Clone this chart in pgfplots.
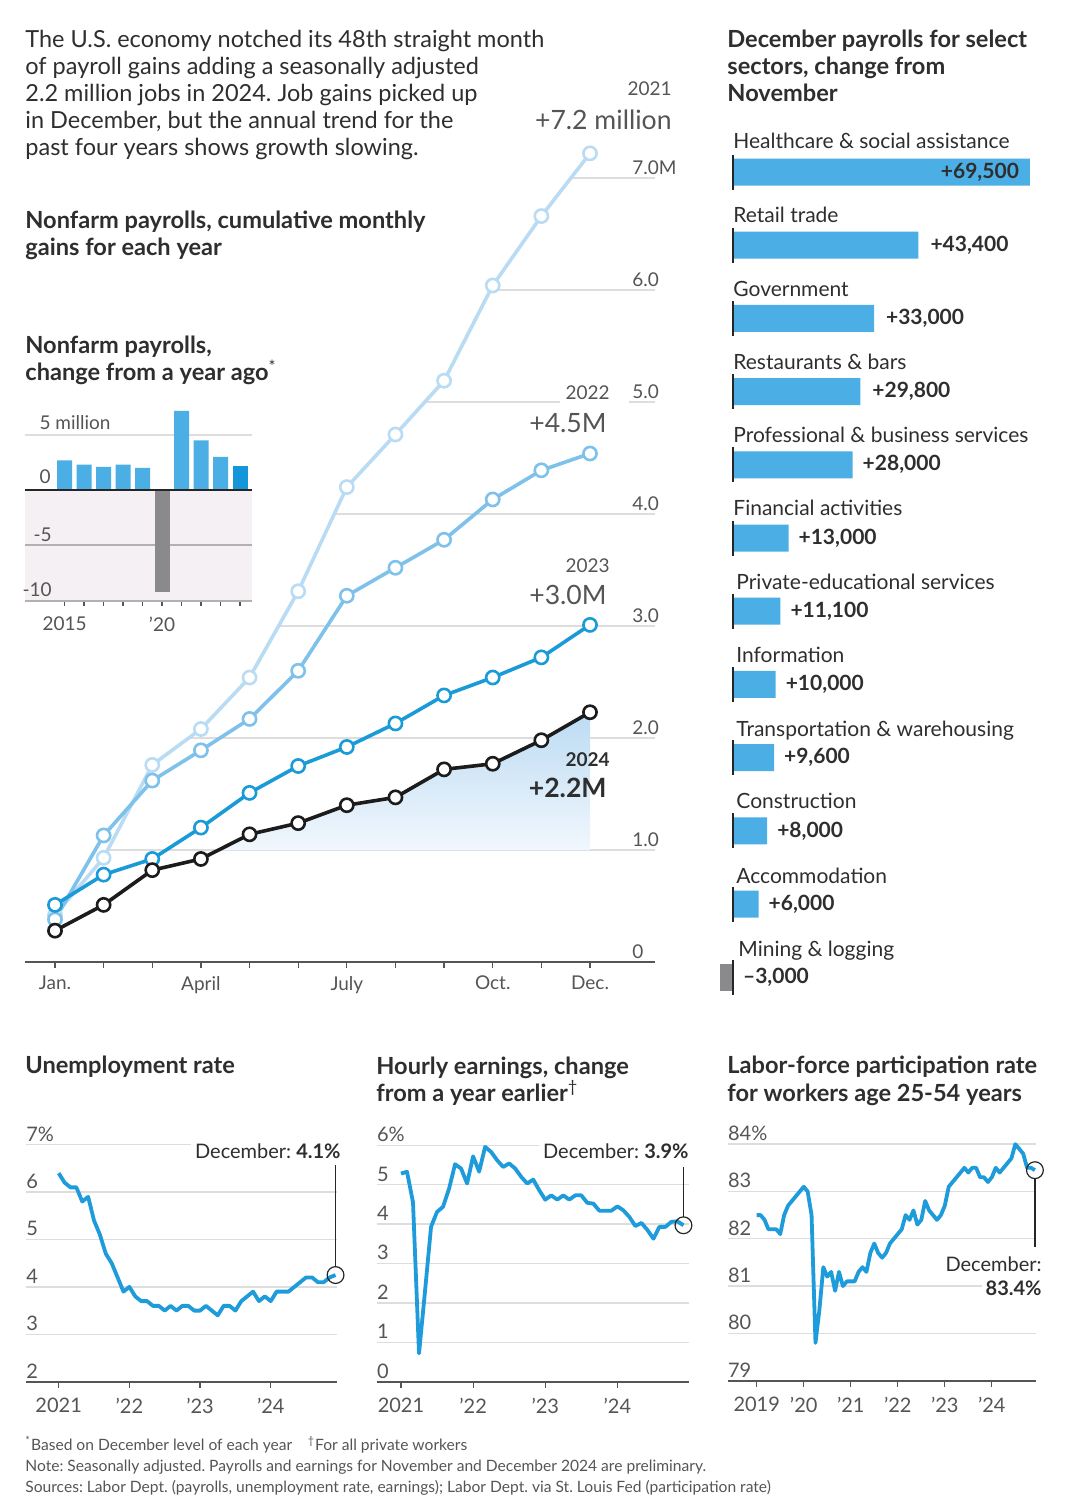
\documentclass[border=0pt]{standalone}
\usepackage{fontspec}
\setmainfont{Lato}
\usepackage{pgfplots}
\pgfplotsset{compat=1.18}
\frenchspacing

\definecolor{txtc}{HTML}{2E2E2E}
\definecolor{tickc}{HTML}{555555}
\definecolor{axisc}{HTML}{555555}
\definecolor{gridc}{HTML}{DDDDDD}
\definecolor{c21}{HTML}{B9DCF4}
\definecolor{c22}{HTML}{7EC1EA}
\definecolor{c23}{HTML}{1B9AD8}
\definecolor{c24}{HTML}{1C1C1C}
\definecolor{barc}{HTML}{4BAEE4}
\definecolor{bardk}{HTML}{1596D8}
\definecolor{gbar}{HTML}{8A8A8D}
\definecolor{linec}{HTML}{1E9BDA}
\definecolor{negc}{HTML}{F4F0F3}
\definecolor{fillt}{HTML}{BCDBF3}
\definecolor{fillb}{HTML}{F1F7FD}

\newcommand{\fbody}{\fontsize{11.75}{13}\selectfont}
\newcommand{\fhead}{\fontsize{11.8}{13}\selectfont\bfseries}
\newcommand{\ftick}{\fontsize{9.5}{11}\selectfont}
\newcommand{\fsmt}{\fontsize{10}{11}\selectfont}
\newcommand{\fbig}{\fontsize{13.3}{15}\selectfont}
\newcommand{\fsec}{\fontsize{10.5}{12}\selectfont}
\newcommand{\fval}{\fontsize{10.5}{12}\selectfont\bfseries}
\newcommand{\fnote}{\fontsize{7.8}{9}\selectfont}

\pgfplotsset{
  small/.style={
    anchor=north west, scale only axis,
    axis x line*=bottom, axis y line*=left,
    y axis line style={draw=none},
    x axis line style={draw=axisc, line width=0.8pt, -},
    xtick align=outside, ytick align=inside, major tick length=3pt,
    xtick style={draw=axisc, line width=0.6pt},
    ytick style={draw=none},
    ymajorgrids, grid style={draw=gridc, line width=0.7pt},
    xticklabel style={font=\fsmt, text=tickc, yshift=-1.5pt},
    yticklabel style={font=\fsmt, text=tickc, anchor=south west, inner sep=0pt, yshift=1.5pt},
    clip=false,
  },
  ser/.style={linec, line width=1.9pt, line join=round, no marks},
}

\begin{document}
\begin{tikzpicture}
\path[use as bounding box] (0,0) rectangle (540pt,-753.5pt);

% ---------------- main cumulative chart ----------------
\begin{axis}[
  at={(12.5pt,-61pt)}, anchor=north west, scale only axis,
  width=315pt, height=420pt,
  xmin=0.3832, xmax=13.3365, ymin=0, ymax=7.5,
  axis x line*=bottom, axis y line*=right,
  x axis line style={draw=axisc, line width=1pt, -},
  y axis line style={draw=none},
  xtick={1,...,12}, xticklabels={Jan.,,,April,,,July,,,Oct.,,Dec.},
  xtick align=outside, ytick align=inside, major tick length=3pt,
  xtick style={draw=axisc, line width=0.6pt},
  xticklabel style={font=\ftick, text=tickc, yshift=-0.5pt},
  ytick={0,...,7}, yticklabels={0,1.0,2.0,3.0,4.0,5.0,6.0,7.0M},
  ytick style={draw=none},
  yticklabel style={font=\ftick, text=tickc, anchor=south west, inner sep=0pt, xshift=-11.5pt, yshift=1.5pt},
  ymajorgrids, grid style={draw=gridc, line width=0.7pt},
]
% white mask above the 2021 line (hides grid on the left)
\addplot[fill=white, draw=none] coordinates {
  (0.3832,7.5) (0.3832,0.42) (1,0.42) (2,0.93) (3,1.76) (4,2.08) (5,2.54) (6,3.31)
  (7,4.24) (8,4.71) (9,5.19) (10,6.04) (11,6.66) (12,7.22) (12,7.5)} -- cycle;
% 2024 shaded area above 1.0
\addplot[draw=none, top color=fillt, bottom color=fillb] coordinates {
  (4.36,1.0) (5,1.14) (6,1.24) (7,1.40) (8,1.47) (9,1.72) (10,1.77) (11,1.98) (12,2.23) (12,1.0)} -- cycle;
\addplot[c21, line width=1.8pt, mark=*, mark size=3.3pt, mark options={fill=white, draw=c21, line width=1.3pt}] coordinates {
  (1,0.42) (2,0.93) (3,1.76) (4,2.08) (5,2.54) (6,3.31) (7,4.24) (8,4.71) (9,5.19) (10,6.04) (11,6.66) (12,7.22)};
\addplot[c22, line width=1.8pt, mark=*, mark size=3.3pt, mark options={fill=white, draw=c22, line width=1.3pt}] coordinates {
  (1,0.38) (2,1.13) (3,1.62) (4,1.89) (5,2.17) (6,2.60) (7,3.27) (8,3.52) (9,3.77) (10,4.13) (11,4.39) (12,4.54)};
\addplot[c23, line width=1.8pt, mark=*, mark size=3.3pt, mark options={fill=white, draw=c23, line width=1.3pt}] coordinates {
  (1,0.51) (2,0.78) (3,0.92) (4,1.20) (5,1.51) (6,1.75) (7,1.92) (8,2.13) (9,2.38) (10,2.54) (11,2.72) (12,3.01)};
\addplot[c24, line width=1.8pt, mark=*, mark size=3.3pt, mark options={fill=white, draw=c24, line width=1.3pt}] coordinates {
  (1,0.28) (2,0.51) (3,0.82) (4,0.92) (5,1.14) (6,1.24) (7,1.40) (8,1.47) (9,1.72) (10,1.77) (11,1.98) (12,2.23)};
\end{axis}

% ---------------- inset bar chart ----------------
\begin{axis}[
  at={(12.5pt,-201pt)}, anchor=north west, scale only axis,
  width=113.5pt, height=99.5pt,
  xmin=2012.97, xmax=2024.615, ymin=-10.1, ymax=8,
  axis x line*=bottom, axis y line*=left,
  x axis line style={draw=none}, y axis line style={draw=none},
  ytick=\empty,
  xtick={2015,...,2024}, xticklabels={2015,,,,,’20,,,,},
  xtick align=outside, major tick length=2.5pt,
  xtick style={draw=tickc, line width=0.6pt},
  xticklabel style={font=\ftick, text=tickc, yshift=-2pt},
]
\fill[negc] (axis cs:2012.97,0) rectangle (axis cs:2024.615,-10.1);
\draw[gridc, line width=0.7pt] (axis cs:2012.97,5) -- (axis cs:2024.615,5);
\draw[gridc!80!black, line width=0.6pt] (axis cs:2012.97,-5) -- (axis cs:2024.615,-5);
\draw[gridc!80!black, line width=0.6pt] (axis cs:2012.97,-10.1) -- (axis cs:2024.615,-10.1);
\addplot[ybar, bar width=7.5pt, bar shift=0pt, fill=barc, draw=none] coordinates {
  (2015,2.7) (2016,2.3) (2017,2.1) (2018,2.3) (2019,2.0) (2021,7.2) (2022,4.5) (2023,3.0)};
\addplot[ybar, bar width=7.5pt, bar shift=0pt, fill=gbar, draw=none] coordinates {(2020,-9.3)};
\addplot[ybar, bar width=7.5pt, bar shift=0pt, fill=bardk, draw=none] coordinates {(2024,2.2)};
\draw[black!85, line width=1pt] (axis cs:2012.97,0) -- (axis cs:2024.615,0);
\end{axis}

% ---------------- sector bars ----------------
\begin{axis}[
  at={(357.5pt,-67.7pt)}, anchor=north west, scale only axis,
  width=162.5pt, height=439.2pt,
  xmin=-4212, xmax=71845, ymin=-0.5, ymax=11.5, y dir=reverse,
  hide axis,
]
\addplot[xbar, bar width=13.5pt, bar shift=0pt, fill=barc, draw=none] coordinates {
  (69500,0) (43400,1) (33000,2) (29800,3) (28000,4) (13000,5) (11100,6) (10000,7) (9600,8) (8000,9) (6000,10)};
\addplot[xbar, bar width=13.5pt, bar shift=0pt, fill=gbar, draw=none] coordinates {(-3000,11)};
\pgfplotsinvokeforeach{0,...,11}{\draw[black!85, line width=1.1pt] ([yshift=8.75pt]axis cs:0,#1) -- ([yshift=-8.75pt]axis cs:0,#1);}
\node[anchor=east, font=\fval, text=txtc, xshift=-2pt] at (axis cs:69500,0) {+69,500};
\node[anchor=west, font=\fval, text=txtc, xshift=2.5pt] at (axis cs:43400,1) {+43,400};
\node[anchor=west, font=\fval, text=txtc, xshift=2.5pt] at (axis cs:33000,2) {+33,000};
\node[anchor=west, font=\fval, text=txtc, xshift=2.5pt] at (axis cs:29800,3) {+29,800};
\node[anchor=west, font=\fval, text=txtc, xshift=1.5pt] at (axis cs:28000,4) {+28,000};
\node[anchor=west, font=\fval, text=txtc, xshift=1.5pt] at (axis cs:13000,5) {+13,000};
\node[anchor=west, font=\fval, text=txtc, xshift=1.5pt] at (axis cs:11100,6) {+11,100};
\node[anchor=west, font=\fval, text=txtc, xshift=1.5pt] at (axis cs:10000,7) {+10,000};
\node[anchor=west, font=\fval, text=txtc, xshift=1.5pt] at (axis cs:9600,8) {+9,600};
\node[anchor=west, font=\fval, text=txtc, xshift=1.5pt] at (axis cs:8000,9) {+8,000};
\node[anchor=west, font=\fval, text=txtc, xshift=1.5pt] at (axis cs:6000,10) {+6,000};
\node[anchor=west, font=\fval, text=txtc, xshift=1.5pt] at (axis cs:0,11) {–3,000};
\end{axis}

% ---------------- unemployment ----------------
\begin{axis}[small,
  at={(13pt,-567.6pt)}, width=155.5pt, height=123.25pt,
  xmin=-5.55, xmax=47.25, ymin=2, ymax=7.2,
  xtick={0,12,24,36}, xticklabels={2021,’22,’23,’24},
  ytick={2,...,7}, yticklabels={2,3,4,5,6,7\%},
]
\addplot[ser] coordinates {
 (0,6.4) (1,6.2) (2,6.1) (3,6.1) (4,5.8) (5,5.9) (6,5.4) (7,5.1) (8,4.7) (9,4.5) (10,4.2) (11,3.9)
 (12,4.0) (13,3.8) (14,3.7) (15,3.7) (16,3.6) (17,3.6) (18,3.5) (19,3.6) (20,3.5) (21,3.6) (22,3.6) (23,3.5)
 (24,3.5) (25,3.6) (26,3.5) (27,3.4) (28,3.6) (29,3.6) (30,3.5) (31,3.7) (32,3.8) (33,3.9) (34,3.7) (35,3.8)
 (36,3.7) (37,3.9) (38,3.9) (39,3.9) (40,4.0) (41,4.1) (42,4.2) (43,4.2) (44,4.1) (45,4.1) (46,4.2) (47,4.25)};
\addplot[only marks, mark=o, mark size=4.2pt, mark options={draw=black!85, line width=0.6pt}] coordinates {(47,4.25)};
\draw[black!85, line width=0.6pt] ([yshift=4.2pt]axis cs:47,4.25) -- (axis cs:47,6.57);
\end{axis}

% ---------------- hourly earnings ----------------
\begin{axis}[small,
  at={(188.35pt,-568.7pt)}, width=156.3pt, height=122.15pt,
  xmin=-4.04, xmax=47.97, ymin=0, ymax=6.2,
  xtick={0,12,24,36}, xticklabels={2021,’22,’23,’24},
  ytick={0,...,6}, yticklabels={0,1,2,3,4,5,6\%},
]
\addplot[ser] coordinates {
 (0,5.28) (1,5.33) (2,4.55) (3,0.72) (4,2.3) (5,3.93) (6,4.31) (7,4.44) (8,4.9) (9,5.52) (10,5.41) (11,5.03)
 (12,5.72) (13,5.33) (14,5.96) (15,5.83) (16,5.62) (17,5.45) (18,5.54) (19,5.41) (20,5.2) (21,5.03) (22,5.13) (23,4.86)
 (24,4.62) (25,4.73) (26,4.62) (27,4.73) (28,4.62) (29,4.73) (30,4.73) (31,4.54) (32,4.52) (33,4.34) (34,4.34) (35,4.34)
 (36,4.45) (37,4.35) (38,4.18) (39,3.95) (40,4.03) (41,3.85) (42,3.63) (43,3.93) (44,3.93) (45,4.06) (46,4.07) (47,3.97)};
\addplot[only marks, mark=o, mark size=4.2pt, mark options={draw=black!85, line width=0.6pt}] coordinates {(47,3.97)};
\draw[black!85, line width=0.6pt] ([yshift=4.2pt]axis cs:47,3.97) -- (axis cs:47,5.46);
\end{axis}

% ---------------- participation ----------------
\begin{axis}[small,
  at={(363.85pt,-567.35pt)}, width=154pt, height=123pt,
  xmin=-7.4, xmax=71.2, ymin=79, ymax=84.2,
  xtick={0,12,24,36,48,60}, xticklabels={2019,’20,’21,’22,’23,’24},
  ytick={79,...,84}, yticklabels={79,80,81,82,83,84\%},
]
\addplot[ser] coordinates {
 (0,82.5) (1,82.5) (2,82.4) (3,82.2) (4,82.2) (5,82.2) (6,82.1) (7,82.5) (8,82.7) (9,82.8) (10,82.9) (11,83.0)
 (12,83.1) (13,83.0) (14,82.5) (15,79.8) (16,80.5) (17,81.4) (18,81.2) (19,81.3) (20,80.9) (21,81.3) (22,81.0) (23,81.1)
 (24,81.1) (25,81.1) (26,81.3) (27,81.4) (28,81.3) (29,81.7) (30,81.9) (31,81.7) (32,81.6) (33,81.7) (34,81.9) (35,82.0)
 (36,82.1) (37,82.2) (38,82.5) (39,82.4) (40,82.6) (41,82.3) (42,82.4) (43,82.8) (44,82.6) (45,82.5) (46,82.4) (47,82.5)
 (48,82.7) (49,83.1) (50,83.2) (51,83.3) (52,83.4) (53,83.5) (54,83.4) (55,83.5) (56,83.5) (57,83.3) (58,83.3) (59,83.2)
 (60,83.3) (61,83.5) (62,83.4) (63,83.5) (64,83.6) (65,83.7) (66,84.0) (67,83.9) (68,83.8) (69,83.5) (70,83.5) (71,83.45)};
\addplot[only marks, mark=o, mark size=4.2pt, mark options={draw=black!85, line width=0.6pt}] coordinates {(71,83.45)};
\draw[black!85, line width=0.6pt] ([yshift=-4.2pt]axis cs:71,83.45) -- (axis cs:71,81.83);
\end{axis}

% ---------------- texts (pixel coordinates) ----------------
\begin{scope}[x=0.5pt, y=-0.5pt]
% intro
\node[anchor=base west, inner sep=0pt, font=\fbody, text=txtc] at (25,48) {The U.S. economy notched its 48th straight month};
\node[anchor=base west, inner sep=0pt, font=\fbody, text=txtc] at (25,75) {of payroll gains adding a seasonally adjusted};
\node[anchor=base west, inner sep=0pt, font=\fbody, text=txtc] at (25,102) {2.2 million jobs in 2024. Job gains picked up};
\node[anchor=base west, inner sep=0pt, font=\fbody, text=txtc] at (25,129) {in December, but the annual trend for the};
\node[anchor=base west, inner sep=0pt, font=\fbody, text=txtc] at (25,156) {past four years shows growth slowing.};
% titles
\node[anchor=base west, inner sep=0pt, font=\fhead, text=txtc] at (25,229) {Nonfarm payrolls, cumulative monthly};
\node[anchor=base west, inner sep=0pt, font=\fhead, text=txtc] at (25,256) {gains for each year};
\node[anchor=base west, inner sep=0pt, font=\fhead, text=txtc] at (25,354) {Nonfarm payrolls,};
\node[anchor=base west, inner sep=0pt, font=\fhead, text=txtc] at (25,381) {change from a year ago\textsuperscript{\mdseries *}};
% inset y labels
\node[anchor=base east, inner sep=0pt, font=\ftick, text=tickc] at (51,430) {5\rlap{ million}};
\node[anchor=base east, inner sep=0pt, font=\ftick, text=tickc] at (51,484) {0};
\node[anchor=base east, inner sep=0pt, font=\ftick, text=tickc] at (52,541) {-5};
\node[anchor=base east, inner sep=0pt, font=\ftick, text=tickc] at (52,596) {-10};
% series labels
\node[anchor=base east, inner sep=0pt, font=\ftick, text=tickc] at (672,96) {2021};
\node[anchor=base east, inner sep=0pt, font=\fbig, text=tickc] at (672,130) {+7.2 million};
\fill[white] (560,397) rectangle (629,408);
\node[anchor=base east, inner sep=0pt, font=\ftick, text=tickc] at (610,400) {2022};
\node[anchor=base east, inner sep=0pt, font=\fbig, text=tickc] at (607,433) {+4.5M};
\node[anchor=base east, inner sep=0pt, font=\ftick, text=tickc] at (610,572) {2023};
\node[anchor=base east, inner sep=0pt, font=\fbig, text=tickc] at (607,604) {+3.0M};
\node[anchor=base east, inner sep=0pt, font=\ftick\bfseries, text=txtc] at (610,766) {2024};
\node[anchor=base east, inner sep=0pt, font=\fbig\bfseries, text=txtc] at (607,797) {+2.2M};
% right title
\node[anchor=base west, inner sep=0pt, font=\fhead, text=txtc] at (727,48) {December payrolls for select};
\node[anchor=base west, inner sep=0pt, font=\fhead, text=txtc] at (727,75) {sectors, change from};
\node[anchor=base west, inner sep=0pt, font=\fhead, text=txtc] at (727,102) {November};
% sector names
\node[anchor=base west, inner sep=0pt, font=\fsec, text=txtc] at (733,149) {Healthcare \& social assistance};
\node[anchor=base west, inner sep=0pt, font=\fsec, text=txtc] at (733,223) {Retail trade};
\node[anchor=base west, inner sep=0pt, font=\fsec, text=txtc] at (733,297) {Government};
\node[anchor=base west, inner sep=0pt, font=\fsec, text=txtc] at (733,370) {Restaurants \& bars};
\node[anchor=base west, inner sep=0pt, font=\fsec, text=txtc] at (733,443) {Professional \& business services};
\node[anchor=base west, inner sep=0pt, font=\fsec, text=txtc] at (733,516) {Financial activities};
\node[anchor=base west, inner sep=0pt, font=\fsec, text=txtc] at (736,589) {Private-educational services};
\node[anchor=base west, inner sep=0pt, font=\fsec, text=txtc] at (736,662) {Information};
\node[anchor=base west, inner sep=0pt, font=\fsec, text=txtc] at (736,736) {Transportation \& warehousing};
\node[anchor=base west, inner sep=0pt, font=\fsec, text=txtc] at (736,808) {Construction};
\node[anchor=base west, inner sep=0pt, font=\fsec, text=txtc] at (736,883) {Accommodation};
\node[anchor=base west, inner sep=0pt, font=\fsec, text=txtc] at (738,956) {Mining \& logging};
% bottom titles
\node[anchor=base west, inner sep=0pt, font=\fhead, text=txtc] at (25,1073) {Unemployment rate};
\node[anchor=base west, inner sep=0pt, font=\fhead, text=txtc] at (376,1074) {Hourly earnings, change};
\node[anchor=base west, inner sep=0pt, font=\fhead, text=txtc] at (376,1101) {from a year earlier\textsuperscript{\mdseries †}};
\node[anchor=base west, inner sep=0pt, font=\fhead, text=txtc] at (727,1073) {Labor-force participation rate};
\node[anchor=base west, inner sep=0pt, font=\fhead, text=txtc] at (727,1101) {for workers age 25-54 years};
% annotations
\node[anchor=base east, fill=white, inner sep=2pt, font=\fsmt, text=txtc] at (345,1158) {December: \textbf{4.1\%}};
\node[anchor=base east, fill=white, inner sep=2pt, font=\fsmt, text=txtc] at (693,1158) {December: \textbf{3.9\%}};
\node[anchor=base east, fill=white, inner sep=2pt, font=\fsmt, text=txtc] at (1046,1271) {December:};
\node[anchor=base east, fill=white, inner sep=2pt, font=\fsmt\bfseries, text=txtc] at (1046,1295) {83.4\%};
% footnotes
\node[anchor=base west, inner sep=0pt, font=\fnote, text=tickc] at (25,1450) {\textsuperscript{*}Based on December level of each year\quad \textsuperscript{†}For all private workers};
\node[anchor=base west, inner sep=0pt, font=\fnote, text=tickc] at (25,1471) {Note: Seasonally adjusted. Payrolls and earnings for November and December 2024 are preliminary.};
\node[anchor=base west, inner sep=0pt, font=\fnote, text=tickc] at (25,1492) {Sources: Labor Dept. (payrolls, unemployment rate, earnings); Labor Dept. via St. Louis Fed (participation rate)};
\end{scope}
\end{tikzpicture}
\end{document}
